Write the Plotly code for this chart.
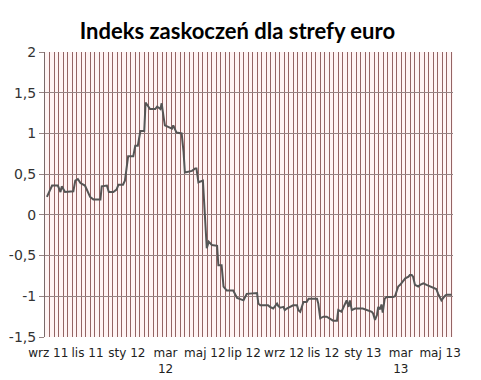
import plotly.graph_objects as go

# Data (dates and index values)
dates = [
    "2011-08-30", "2011-09-07", "2011-09-16", "2011-09-20", "2011-09-22", "2011-09-27",
    "2011-10-10", "2011-10-13", "2011-10-17", "2011-10-21", "2011-10-28", "2011-11-02",
    "2011-11-05", "2011-11-10", "2011-11-21", "2011-11-23", "2011-12-01", "2011-12-04",
    "2011-12-11", "2011-12-16", "2011-12-19", "2011-12-26", "2011-12-29", "2012-01-03",
    "2012-01-11", "2012-01-14", "2012-01-18", "2012-01-22", "2012-01-28", "2012-01-30",
    "2012-02-02", "2012-02-06", "2012-02-14", "2012-02-17", "2012-02-22", "2012-02-24",
    "2012-02-27", "2012-02-29", "2012-03-11", "2012-03-13", "2012-03-18", "2012-03-26",
    "2012-03-29", "2012-03-31", "2012-04-11", "2012-04-16", "2012-04-18", "2012-04-21",
    "2012-04-28", "2012-05-01", "2012-05-04", "2012-05-07", "2012-05-12", "2012-05-20",
    "2012-05-22", "2012-05-27", "2012-05-30", "2012-06-04", "2012-06-14", "2012-06-20",
    "2012-06-30", "2012-07-05", "2012-07-21", "2012-07-23", "2012-07-26", "2012-08-07",
    "2012-08-10", "2012-08-15", "2012-08-21", "2012-08-23", "2012-08-26", "2012-08-31",
    "2012-09-02", "2012-09-05", "2012-09-10", "2012-09-15", "2012-09-21", "2012-09-23",
    "2012-09-26", "2012-09-28", "2012-10-01", "2012-10-06", "2012-10-09", "2012-10-22",
    "2012-10-24", "2012-10-27", "2012-11-01", "2012-11-06", "2012-11-11", "2012-11-16",
    "2012-11-22", "2012-11-24", "2012-11-29", "2012-12-02", "2012-12-04", "2012-12-07",
    "2012-12-10", "2012-12-12", "2012-12-15", "2012-12-20", "2013-01-01", "2013-01-07",
    "2013-01-10", "2013-01-15", "2013-01-17", "2013-01-20", "2013-01-23", "2013-01-25",
    "2013-01-28", "2013-01-30", "2013-02-01", "2013-02-04", "2013-02-07", "2013-02-17",
    "2013-02-20", "2013-02-23", "2013-02-25", "2013-02-28", "2013-03-02", "2013-03-05",
    "2013-03-08", "2013-03-13", "2013-03-15", "2013-03-18", "2013-03-20", "2013-03-23",
    "2013-03-28", "2013-03-31", "2013-04-05", "2013-04-10", "2013-04-15", "2013-04-20",
    "2013-04-25", "2013-04-28", "2013-05-01", "2013-05-03", "2013-05-09", "2013-05-11",
    "2013-05-19",
]
values = [
    0.22, 0.36, 0.36, 0.28, 0.35, 0.28,
    0.29, 0.42, 0.44, 0.39, 0.36, 0.26,
    0.22, 0.19, 0.19, 0.35, 0.36, 0.28,
    0.28, 0.31, 0.37, 0.37, 0.42, 0.72,
    0.72, 0.85, 0.85, 1.03, 1.03, 1.38,
    1.35, 1.30, 1.30, 1.33, 1.30, 1.37,
    1.20, 1.10, 1.06, 1.10, 1.01, 1.00,
    0.77, 0.52, 0.54, 0.57, 0.57, 0.40,
    0.42, 0.02, -0.41, -0.33, -0.37, -0.38,
    -0.62, -0.62, -0.88, -0.93, -0.93, -1.02,
    -1.05, -0.97, -0.96, -1.09, -1.11, -1.11,
    -1.13, -1.15, -1.09, -1.12, -1.14, -1.13,
    -1.17, -1.15, -1.13, -1.11, -1.11, -1.17,
    -1.19, -1.15, -1.07, -1.07, -1.03, -1.03,
    -1.09, -1.27, -1.25, -1.25, -1.28, -1.30,
    -1.30, -1.17, -1.19, -1.13, -1.09, -1.05,
    -1.13, -1.05, -1.17, -1.15, -1.15, -1.17,
    -1.17, -1.19, -1.21, -1.29, -1.23, -1.13,
    -1.16, -1.10, -1.20, -1.03, -1.01, -1.01,
    -1.00, -0.93, -0.88, -0.86, -0.84, -0.80,
    -0.78, -0.76, -0.74, -0.74, -0.76, -0.86,
    -0.88, -0.86, -0.84, -0.86, -0.88, -0.90,
    -0.91, -0.97, -1.01, -1.05, -0.99, -0.98,
    -0.98,
]

x_tick_dates = ["2011-09-01", "2011-11-01", "2012-01-01", "2012-03-01", "2012-05-01",
                "2012-07-01", "2012-09-01", "2012-11-01", "2013-01-01", "2013-03-01",
                "2013-05-01"]
x_tick_labels = ["wrz 11", "lis 11", "sty 12", "mar<br>12", "maj 12", "lip 12",
                 "wrz 12", "lis 12", "sty 13", "mar<br>13", "maj 13"]
y_tick_vals = [-1.5, -1, -0.5, 0, 0.5, 1, 1.5, 2]
y_tick_labels = ["-1,5", "-1", "-0,5", "0", "0,5", "1", "1,5", "2"]

title_text = "Indeks zaskoczeń dla strefy euro"

fig = go.Figure()
fig.add_trace(go.Scatter(
    x=dates, y=values, mode="lines",
    line=dict(color="#555555", width=2),
    showlegend=False,
))

# page body has an 8px default margin, so the figure is offset by 8px
fig.update_layout(
    width=473, height=372,
    margin=dict(l=37, r=28, t=44, b=43),
    paper_bgcolor="white",
    plot_bgcolor="#FFF4F4",
    title=dict(text=title_text, x=0.485, xanchor="center",
               y=1 - 23 / 372, yanchor="middle", yref="container",
               font=dict(family="Lato", size=22, color="#000000", weight="bold")),
    xaxis=dict(
        type="date",
        range=["2011-08-27", "2013-05-21"],
        tickmode="array", tickvals=x_tick_dates, ticktext=x_tick_labels,
        tickangle=0, automargin=False,
        showgrid=False, zeroline=False,
        ticks="", tickfont=dict(family="DejaVu Sans", size=12, color="#222222"),
        ticklabelstandoff=7,
        minor=dict(showgrid=True, gridcolor="#946464", gridwidth=1,
                   tick0="2011-08-27", dtick=7 * 86400000, ticks=""),
        showline=False,
    ),
    yaxis=dict(
        range=[-1.5, 2], automargin=False,
        tickmode="array", tickvals=y_tick_vals, ticktext=y_tick_labels,
        showgrid=True, gridcolor="#968484", gridwidth=1,
        zeroline=False,
        ticks="outside", ticklen=5, tickcolor="#968484",
        tickfont=dict(family="DejaVu Sans", size=14, color="#333333"),
        showline=True, linecolor="#7A6A6A", linewidth=1,
    ),
)

fig.write_html("out.html")
